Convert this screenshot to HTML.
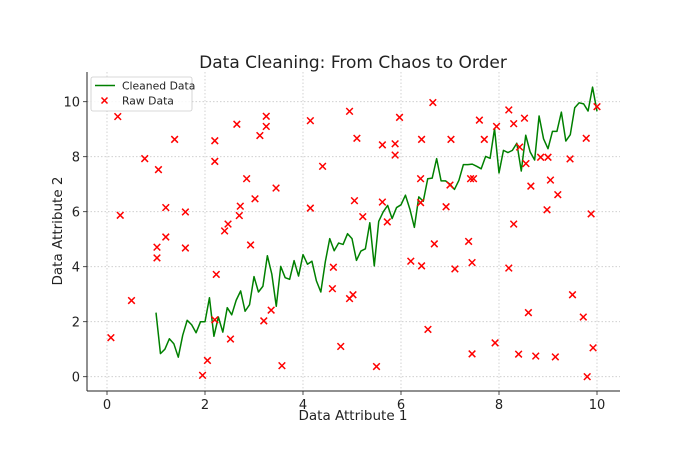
<!DOCTYPE html>
<html><head><meta charset="utf-8"><style>
body{margin:0;background:#fff;}
svg text{font-family:"DejaVu Sans","Liberation Sans",sans-serif;fill:#222;}
</style></head><body>
<svg id="chart" width="690" height="460" xmlns="http://www.w3.org/2000/svg">
<rect width="690" height="460" fill="#fff"/>
<text x="353" y="68" font-size="17" text-anchor="middle">Data Cleaning: From Chaos to Order</text>
<g id="grid"></g>
<g id="series"></g>
<g id="axes"></g>
<text x="353" y="420" font-size="13.5" text-anchor="middle">Data Attribute 1</text>
<text transform="translate(62,231) rotate(-90)" font-size="13.5" text-anchor="middle">Data Attribute 2</text>
<g>
<rect x="91" y="77" width="101" height="34" rx="2" fill="#fff" fill-opacity="0.85" stroke="#ccc" stroke-width="0.8"/>
<line x1="95" y1="85.5" x2="115" y2="85.5" stroke="#008000" stroke-width="1.5"/>
<text x="122" y="89.5" font-size="10.8">Cleaned Data</text>
<path d="M101.5,97.5 l6,6 M107.5,97.5 l-6,6" stroke="#f00" stroke-width="1.5"/>
<text x="122" y="104.5" font-size="10.8">Raw Data</text>
</g>
</svg>
<script>
const xTicks=[0,2,4,6,8,10];
const yTicks=[0,2,4,6,8,10];
const rawX=[0.08,0.22,0.27,0.5,0.77,1.02,1.02,1.05,1.2,1.2,1.38,1.6,1.6,1.95,2.05,2.2,2.2,2.23,2.2,2.4,2.47,2.52,2.65,2.7,2.72,2.85,2.93,3.02,3.12,3.2,3.25,3.25,3.35,3.45,3.57,4.15,4.15,4.4,4.6,4.62,4.77,4.95,4.95,5.02,5.05,5.1,5.22,5.5,5.62,5.62,5.72,5.88,5.88,5.97,6.2,6.4,6.4,6.42,6.42,6.55,6.65,6.68,6.92,7.0,7.02,7.1,7.38,7.42,7.48,7.45,7.45,7.6,7.7,7.92,7.95,8.2,8.2,8.3,8.3,8.4,8.42,8.52,8.55,8.6,8.65,8.75,8.85,8.98,9.0,9.05,9.15,9.2,9.45,9.5,9.72,9.78,9.8,9.88,9.92,10.0];
const rawY=[1.42,9.46,5.87,2.77,7.93,4.71,4.32,7.53,5.08,6.15,8.63,5.99,4.68,0.05,0.59,8.58,7.83,3.72,2.07,5.3,5.55,1.37,9.18,5.86,6.2,7.2,4.79,6.47,8.77,2.03,9.47,9.1,2.42,6.86,0.4,9.31,6.13,7.65,3.2,3.98,1.1,9.65,2.84,2.98,6.4,8.67,5.82,0.37,8.43,6.35,5.63,8.47,8.06,9.43,4.2,6.33,7.2,8.63,4.03,1.72,9.97,4.83,6.18,6.97,8.63,3.92,4.92,7.2,7.2,4.15,0.83,9.33,8.63,1.23,9.1,9.7,3.95,9.2,5.55,0.82,8.35,9.4,7.75,2.33,6.93,0.75,7.98,6.07,7.98,7.15,0.72,6.62,7.92,2.98,2.17,8.67,0.0,5.92,1.05,9.82];
const cleanStart=1, cleanEnd=10;
const cleanY=[2.33,0.84,1.00,1.38,1.20,0.71,1.51,2.05,1.89,1.60,2.00,2.00,2.87,1.47,2.17,1.62,2.51,2.25,2.78,3.12,2.38,2.62,3.64,3.08,3.29,4.40,3.73,2.56,4.01,3.60,3.54,4.22,3.66,4.44,4.09,4.20,3.49,3.08,4.17,5.02,4.58,4.86,4.81,5.20,5.02,4.23,4.57,4.65,5.60,4.03,5.65,5.99,6.23,5.75,6.15,6.25,6.60,6.09,5.43,6.54,6.38,7.20,7.22,7.93,7.12,7.12,7.00,6.81,7.14,7.71,7.71,7.73,7.65,7.56,8.01,7.94,9.02,7.41,8.23,8.15,8.23,8.49,7.48,8.78,8.17,7.88,9.48,8.65,8.29,8.92,8.92,9.62,8.57,8.80,9.78,9.96,9.92,9.66,10.53,9.65];

const NS='http://www.w3.org/2000/svg';
const L=87,R=620,T=72,B=391;
const sx=v=>107+49*v;
const sy=v=>376.7-27.5*v;
function mk(tag,attrs,parent){const e=document.createElementNS(NS,tag);for(const k in attrs)e.setAttribute(k,attrs[k]);parent.appendChild(e);return e;}
const grid=document.getElementById('grid'),axes=document.getElementById('axes'),series=document.getElementById('series');
xTicks.forEach(t=>{
  const g=mk('line',{x1:sx(t),x2:sx(t),y1:T,y2:B,stroke:'#c8c8c8','stroke-width':0.8,'stroke-dasharray':'1.5,2'},grid);
  
  
  const tk=mk('line',{x1:sx(t),x2:sx(t),y1:B,y2:B+4,stroke:'#222','stroke-width':0.8},axes);
  
  
  const tx=mk('text',{x:sx(t),y:B+18,'font-size':13,'text-anchor':'middle'},axes);
  tx.textContent=t;
  
  
});
yTicks.forEach(t=>{
  const g=mk('line',{x1:L,x2:R,y1:sy(t),y2:sy(t),stroke:'#c8c8c8','stroke-width':0.8,'stroke-dasharray':'1.5,2'},grid);
  
  
  const tk=mk('line',{x1:L-4,x2:L,y1:sy(t),y2:sy(t),stroke:'#222','stroke-width':0.8},axes);
  
  
  const tx=mk('text',{x:L-7,y:sy(t)+5,'font-size':13,'text-anchor':'end'},axes);
  tx.textContent=t;
  
  
});
const la=mk('line',{x1:L,x2:L,y1:T,y2:B,stroke:'#222','stroke-width':1},axes);


const ba=mk('line',{x1:L,x2:R,y1:B,y2:B,stroke:'#222','stroke-width':1},axes);


const n=cleanY.length;
const pts=cleanY.map((v,i)=>{const x=cleanStart+(cleanEnd-cleanStart)*i/(n-1);return sx(x).toFixed(2)+','+sy(v).toFixed(2);}).join(' ');
const pl=mk('polyline',{points:pts,fill:'none',stroke:'#008000','stroke-width':1.5,'stroke-linejoin':'round'},series);


rawX.forEach((x,i)=>{
  const cx=sx(x),cy=sy(rawY[i]),s=3.3;
  const p=mk('path',{d:`M${cx-s},${cy-s}L${cx+s},${cy+s}M${cx+s},${cy-s}L${cx-s},${cy+s}`,stroke:'#f00','stroke-width':1.5},series);
  
  
});
</script>
</body></html>
